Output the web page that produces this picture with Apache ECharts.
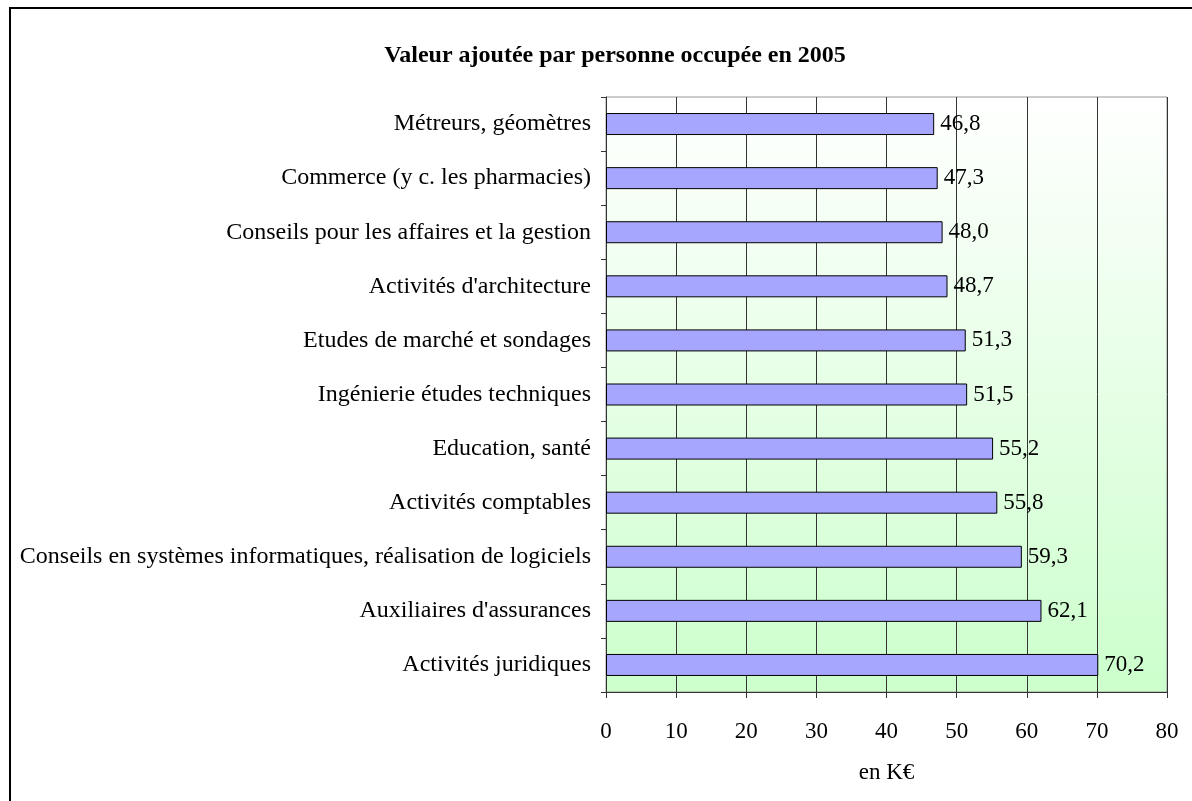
<!DOCTYPE html>
<html>
<head>
<meta charset="utf-8">
<script src="https://cdn.jsdelivr.net/npm/echarts@6/dist/echarts.min.js"></script>
<style>
  html, body { margin: 0; padding: 0; background: #fff; }
  #frame { position: absolute; left: 9px; top: 7px; width: 1200px; height: 810px; border: 2px solid #000; box-sizing: border-box; }
  #main { position: absolute; left: 0; top: 0; width: 1192px; height: 801px; }
</style>
</head>
<body>
<div id="frame"></div>
<div id="main"></div>
<script>
// secteurs, du haut vers le bas
var categories = [
  'Métreurs, géomètres',
  'Commerce (y c. les pharmacies)',
  'Conseils pour les affaires et la gestion',
  "Activités d'architecture",
  'Etudes de marché et sondages',
  'Ingénierie études techniques',
  'Education, santé',
  'Activités comptables',
  'Conseils en systèmes informatiques, réalisation de logiciels',
  "Auxiliaires d'assurances",
  'Activités juridiques'
];
var values = [46.8, 47.3, 48.0, 48.7, 51.3, 51.5, 55.2, 55.8, 59.3, 62.1, 70.2];
var xTicks = [0, 10, 20, 30, 40, 50, 60, 70, 80];

var font = '"Liberation Serif", "Times New Roman", serif';
var chart = echarts.init(document.getElementById('main'));

var option = {
  animation: false,
  title: {
    text: 'Valeur ajoutée par personne occupée en 2005',
    left: 610,
    textAlign: 'center',
    top: 39,
    textStyle: { fontFamily: font, fontSize: 24, fontWeight: 'bold', color: '#000' }
  },
  grid: {
    left: 606,
    right: 25,
    top: 97,
    bottom: 109,
    show: true,
    borderColor: '#999',
    borderWidth: 1,
    backgroundColor: {
      type: 'linear', x: 0, y: 0, x2: 0, y2: 1,
      colorStops: [
        { offset: 0, color: '#ffffff' },
        { offset: 1, color: '#ccffcc' }
      ]
    }
  },
  xAxis: {
    type: 'value',
    min: xTicks[0],
    max: xTicks[xTicks.length - 1],
    interval: 10,
    name: 'en K€',
    nameLocation: 'middle',
    nameGap: 69,
    nameTextStyle: { fontFamily: font, fontSize: 23, color: '#000' },
    axisLine: { show: true, lineStyle: { color: '#333', width: 1 } },
    axisTick: { show: true, length: 6, lineStyle: { color: '#333' } },
    axisLabel: { margin: 28, fontFamily: font, fontSize: 23, color: '#000' },
    splitLine: { show: true, lineStyle: { color: '#333', width: 1 } }
  },
  yAxis: {
    type: 'category',
    data: categories,
    inverse: true,
    axisLine: { show: true, lineStyle: { color: '#333', width: 1 } },
    axisTick: { show: true, length: 5, lineStyle: { color: '#333' } },
    axisLabel: { margin: 15, fontFamily: font, fontSize: 24, color: '#000' },
    splitLine: { show: false }
  },
  series: [{
    type: 'bar',
    data: values,
    barWidth: 22,
    itemStyle: { color: '#a6a6ff', borderColor: '#000', borderWidth: 1 },
    label: {
      show: true,
      position: 'right',
      distance: 6,
      fontFamily: font,
      fontSize: 23,
      color: '#000',
      formatter: function (p) { return p.value.toFixed(1).replace('.', ','); }
    }
  }]
};

chart.setOption(option);
</script>
</body>
</html>
